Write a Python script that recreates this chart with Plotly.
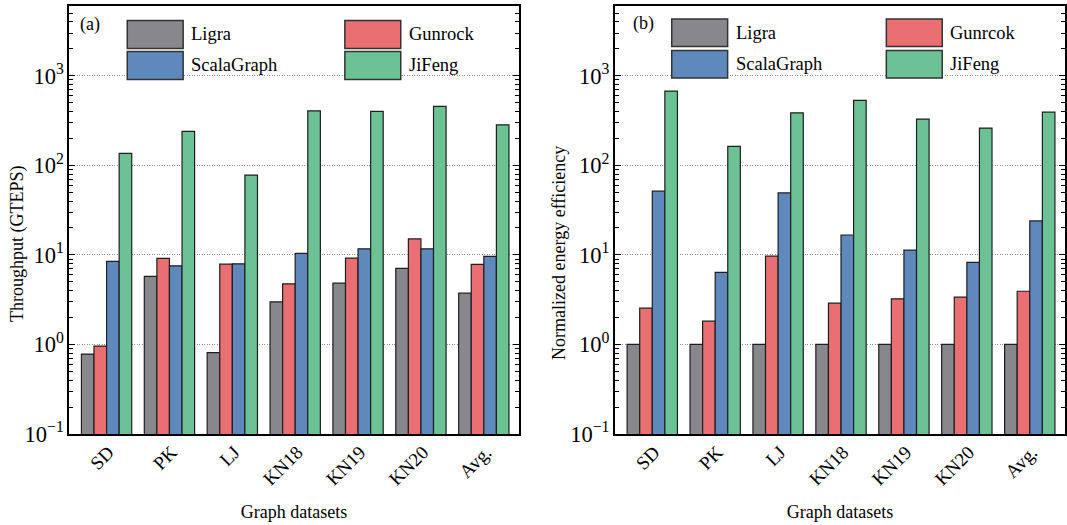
import plotly.graph_objects as go

# ---------------- data ----------------
categories = ["SD", "PK", "LJ", "KN18", "KN19", "KN20", "Avg."]

# (a) Throughput (GTEPS)
thr_ligra = [0.78, 5.75, 0.81, 2.99, 4.84, 7.06, 3.74]
thr_gunrock = [0.96, 9.13, 7.89, 4.75, 9.2, 15.1, 7.83]
thr_scala = [8.46, 7.55, 7.95, 10.4, 11.7, 11.7, 9.62]
thr_jifeng = [136, 240, 78, 407, 401, 456, 284]

# (b) Normalized energy efficiency
eff_ligra = [1.0, 1.0, 1.0, 1.0, 1.0, 1.0, 1.0]
eff_gunrock = [2.54, 1.82, 9.68, 2.89, 3.23, 3.37, 3.93]
eff_scala = [51.5, 6.4, 49.3, 16.7, 11.3, 8.27, 24.0]
eff_jifeng = [676, 163, 386, 533, 329, 261, 393]

names_a = ["Ligra", "Gunrock", "ScalaGraph", "JiFeng"]
names_b = ["Ligra", "Gunrcok", "ScalaGraph", "JiFeng"]

tick_alias = {"1": "10<sup>0</sup>", "10": "10<sup>1</sup>"}

ytitle_a = "Throughput (GTEPS)"
ytitle_b = "Normalized energy efficiency"
xtitle = "Graph datasets"

# ---------------- style ----------------
colors = ["#88878c", "#e96f72", "#5f89bd", "#6cc295"]
edge = "#1e1e1e"
FONT = "Liberation Serif, Times New Roman, serif"
W, H = 1067, 525
MT, MB = 6, 91
PH = H - MT - MB
YRANGE = [-1, 3.78]
# minor tick positions of the log axes (2..9 within each decade)
minor_vals = [m * 10.0 ** e for e in range(-1, 4) for m in range(2, 10)]


def px_x(p):
    return p / W


def px_y(p):
    return (H - MB - p) / PH


fig = go.Figure()

series_a = [thr_ligra, thr_gunrock, thr_scala, thr_jifeng]
series_b = [eff_ligra, eff_gunrock, eff_scala, eff_jifeng]

for i, vals in enumerate(series_a):
    fig.add_trace(go.Bar(x=categories, y=vals, name=names_a[i], xaxis="x", yaxis="y",
                         marker=dict(color=colors[i], line=dict(color=edge, width=1.2)),
                         showlegend=False))
for i, vals in enumerate(series_b):
    fig.add_trace(go.Bar(x=categories, y=vals, name=names_b[i], xaxis="x2", yaxis="y2",
                         marker=dict(color=colors[i], line=dict(color=edge, width=1.2)),
                         showlegend=False))

# invisible helper traces so that the minor-tick overlay axes get drawn
for xa, ya, vals in [("x", "y3", thr_jifeng), ("x", "y4", thr_jifeng),
                     ("x2", "y5", eff_jifeng), ("x2", "y6", eff_jifeng)]:
    fig.add_trace(go.Scatter(x=categories, y=vals, xaxis=xa, yaxis=ya, mode="markers",
                             marker=dict(opacity=0, size=1), showlegend=False,
                             hoverinfo="skip"))

xcommon = dict(type="category", range=[-0.595, 6.56], showline=True, linecolor="black",
               linewidth=1.5, mirror=True, ticks="", tickangle=-45,
               ticklabelshift=2, ticklabelstandoff=-2,
               tickfont=dict(family=FONT, size=19, color="black"),
               title=dict(text=xtitle, font=dict(family=FONT, size=18, color="black"),
                          standoff=17),
               showgrid=False, zeroline=False)
ycommon = dict(type="log", range=YRANGE, dtick=1, exponentformat="power",
               labelalias=tick_alias,
               showline=True, linecolor="black", linewidth=1.5, mirror="allticks",
               ticks="inside", ticklen=6, tickwidth=1.2, tickcolor="black",
               tickfont=dict(family=FONT, size=18, color="black"),
               showgrid=True, gridcolor="#909090", gridwidth=1, griddash="1px,1.5px",
               zeroline=False)
minor_common = dict(type="log", range=YRANGE, tickmode="array", tickvals=minor_vals,
                    ticks="inside", ticklen=4,
                    tickwidth=1.2, tickcolor="black", showticklabels=False,
                    showgrid=False, showline=False, zeroline=False)

fig.update_layout(
    width=W, height=H,
    margin=dict(l=0, r=0, t=MT, b=MB),
    paper_bgcolor="white", plot_bgcolor="white",
    barmode="group", bargap=0.2, bargroupgap=0,
    font=dict(family=FONT, size=18, color="black"),
    xaxis=dict(domain=[px_x(69.3), px_x(520)], anchor="y", **xcommon),
    xaxis2=dict(domain=[px_x(616), 1.0], anchor="y2", **xcommon),
    yaxis=dict(anchor="x", **ycommon),
    yaxis2=dict(anchor="x2", **ycommon),
    yaxis3=dict(overlaying="y", anchor="x", side="left", **minor_common),
    yaxis4=dict(overlaying="y", anchor="x", side="right", **minor_common),
    yaxis5=dict(overlaying="y2", anchor="x2", side="left", **minor_common),
    yaxis6=dict(overlaying="y2", anchor="x2", side="right", **minor_common),
)

shapes = []
annotations = []

# white backdrop behind legends (hides the 10^3 gridline)
for (x0, x1) in [(123, 518), (667, 1064)]:
    shapes.append(dict(type="rect", xref="paper", yref="paper",
                       x0=px_x(x0), x1=px_x(x1), y0=px_y(83), y1=px_y(8),
                       fillcolor="white", line=dict(width=0), layer="between"))

legend_specs = [
    (names_a, [127.5, 345.5], [189, 408], [(20.5, 48.5), (51.5, 79.5)]),
    (names_b, [673, 888], [735, 950], [(19, 46.5), (50.5, 78)]),
]
for names, sx, tx, rows in legend_specs:
    for k, nm in enumerate(names):
        r, c = divmod(k, 2)
        y0, y1 = rows[r]
        shapes.append(dict(type="rect", xref="paper", yref="paper",
                           x0=px_x(sx[c]), x1=px_x(sx[c] + 56), y0=px_y(y1), y1=px_y(y0),
                           fillcolor=colors[k], line=dict(color="#333333", width=1.5),
                           layer="above"))
        annotations.append(dict(xref="paper", yref="paper", x=px_x(tx[c]),
                                y=px_y((y0 + y1) / 2), text=nm, showarrow=False,
                                xanchor="left", yanchor="middle",
                                font=dict(family=FONT, size=18.5, color="black")))

# panel labels
annotations.append(dict(xref="paper", yref="paper", x=px_x(78), y=px_y(25), text="(a)",
                        showarrow=False, xanchor="left", yanchor="middle",
                        font=dict(family=FONT, size=18, color="black")))
annotations.append(dict(xref="paper", yref="paper", x=px_x(632), y=px_y(24), text="(b)",
                        showarrow=False, xanchor="left", yanchor="middle",
                        font=dict(family=FONT, size=18, color="black")))

# y-axis titles
annotations.append(dict(xref="paper", yref="paper", x=px_x(17), y=px_y(243),
                        text=ytitle_a, textangle=-90, showarrow=False,
                        xanchor="center", yanchor="middle",
                        font=dict(family=FONT, size=18, color="black")))
annotations.append(dict(xref="paper", yref="paper", x=px_x(560), y=px_y(253),
                        text=ytitle_b, textangle=-90, showarrow=False,
                        xanchor="center", yanchor="middle",
                        font=dict(family=FONT, size=18, color="black")))

fig.update_layout(shapes=shapes, annotations=annotations)
fig.write_html("out.html", config={"displayModeBar": False},
               post_script="document.body.style.margin='0';document.body.style.padding='0';"
                           "document.body.style.overflow='hidden';")
